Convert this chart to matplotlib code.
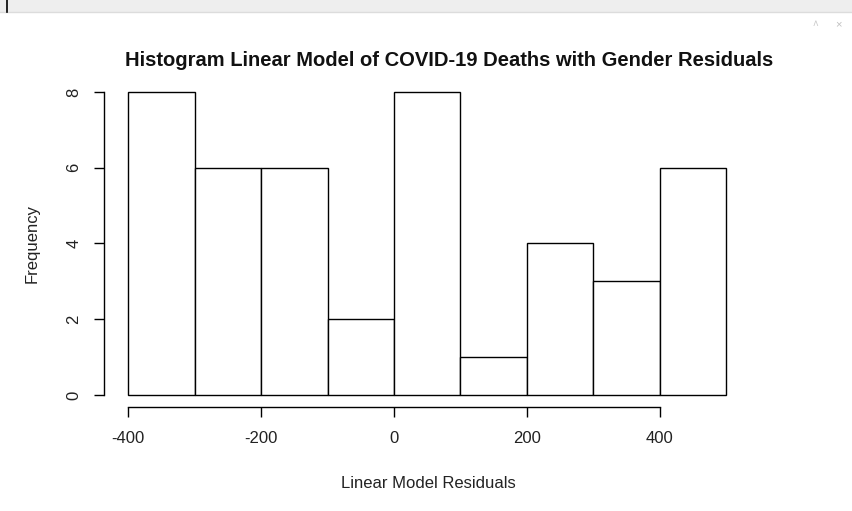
import matplotlib
matplotlib.use("Agg")
import matplotlib.pyplot as plt
from matplotlib.patches import Rectangle
from matplotlib.lines import Line2D

# Histogram of residuals: bin edges and counts
bin_edges = [-400, -300, -200, -100, 0, 100, 200, 300, 400, 500]
counts = [8, 6, 6, 2, 8, 1, 4, 3, 6]
x_ticks = [-400, -200, 0, 200, 400]
y_ticks = [0, 2, 4, 6, 8]

title = "Histogram Linear Model of COVID-19 Deaths with Gender Residuals"
xlabel = "Linear Model Residuals"
ylabel = "Frequency"

plt.rcParams['font.family'] = ['Liberation Sans', 'DejaVu Sans']

W, H = 853, 511
fig = plt.figure(figsize=(W / 100, H / 100), dpi=100)
fig.patch.set_facecolor("white")

# viewer header strip
fig.add_artist(Rectangle((0, 1 - 12 / H), 1, 12 / H, transform=fig.transFigure,
                         facecolor="#eeeeee", edgecolor="none"))
fig.add_artist(Line2D([0, 1], [1 - 12 / H, 1 - 12 / H], transform=fig.transFigure,
                      color="#dcdcdc", lw=1))
fig.add_artist(Line2D([7 / W, 7 / W], [1, 1 - 12 / H], transform=fig.transFigure,
                      color="black", lw=1.2))
fig.text(815 / W, 1 - 24 / H, "\u02c4", color="#c8c8c8", fontsize=7, ha="center", va="center")
fig.text(838 / W, 1 - 24 / H, "\u00d7", color="#c0c0c0", fontsize=8, ha="center", va="center")

# plot region (R style 4% extension on both axes)
xr = bin_edges[-1] - bin_edges[0]
xlo, xhi = bin_edges[0] - 0.04 * xr, bin_edges[-1] + 0.04 * xr
ylo, yhi = -0.04 * max(counts), max(counts) * 1.04

left_px, right_px = 104.1, 750.4
top_px, bot_px = 79.9, 407.1
ax = fig.add_axes([left_px / W, 1 - bot_px / H, (right_px - left_px) / W, (bot_px - top_px) / H])
ax.set_facecolor("none")

widths = [bin_edges[i + 1] - bin_edges[i] for i in range(len(counts))]
ax.bar(bin_edges[:-1], counts, width=widths, align="edge",
       facecolor="white", edgecolor="black", linewidth=1.0)

ax.set_xlim(xlo, xhi)
ax.set_ylim(ylo, yhi)

for s in ["top", "right"]:
    ax.spines[s].set_visible(False)
ax.spines["bottom"].set_bounds(x_ticks[0], x_ticks[-1])
ax.spines["left"].set_bounds(y_ticks[0], y_ticks[-1])
for s in ["bottom", "left"]:
    ax.spines[s].set_linewidth(1.0)
    ax.spines[s].set_color("black")

ax.set_xticks(x_ticks)
ax.set_xticklabels([str(v) for v in x_ticks])
ax.set_yticks(y_ticks)
ax.set_yticklabels([str(v) for v in y_ticks], rotation=90, va="center")
ax.tick_params(axis="both", length=7.5, width=1.0, color="black", labelsize=12,
               labelcolor="#222222")
ax.tick_params(axis="x", pad=10)
ax.tick_params(axis="y", pad=9)

fig.text(449 / W, 1 - 60 / H, title, fontsize=14.5, fontweight="bold",
         ha="center", va="center", color="#111111")
fig.text(428 / W, 1 - 483 / H, xlabel, fontsize=12, ha="center", va="center",
         color="#222222")
fig.text(32 / W, 1 - 243 / H, ylabel, fontsize=12, rotation=90, ha="center",
         va="center", color="#222222")

fig.savefig("out.png", dpi=100, facecolor="white")
